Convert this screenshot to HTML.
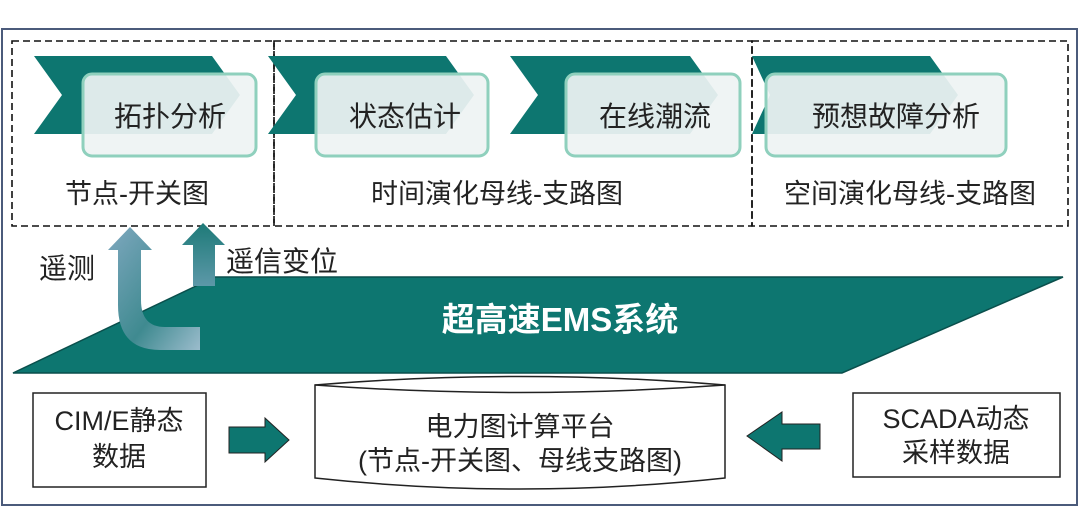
<!DOCTYPE html>
<html><head><meta charset="utf-8"><style>
body{margin:0;background:#fff;}
svg{display:block;}
text{font-family:"Liberation Sans","Noto Sans CJK SC",sans-serif;}
</style></head><body>
<svg width="1080" height="508" viewBox="0 0 1080 508">
<defs>
<linearGradient id="g1" x1="0" y1="0" x2="1" y2="1"><stop offset="0" stop-color="#7fa8bf"/><stop offset="0.6" stop-color="#3f8a90"/><stop offset="1" stop-color="#9bbccc"/></linearGradient>
<linearGradient id="g2" x1="0" y1="0" x2="0" y2="1"><stop offset="0" stop-color="#1e7a78"/><stop offset="1" stop-color="#5c98a8"/></linearGradient>
</defs>
<rect x="2" y="29" width="1075" height="476" fill="#fff" stroke="#4b5b7b" stroke-width="2"/>
<g fill="none" stroke="#111" stroke-width="1.6" stroke-dasharray="7,4">
<rect x="12" y="41" width="262" height="185"/>
<rect x="274" y="41" width="478" height="185"/>
<rect x="752" y="41" width="316" height="185"/>
</g>
<g fill="#0d7670">
<polygon points="34,56 212,56 240,95 212,134 34,134 62,95"/>
<polygon points="268,56 446,56 474,95 446,134 268,134 296,95"/>
<polygon points="510,56 690,56 718,95 690,134 510,134 538,95"/>
<polygon points="752,56 930,56 958,95 930,134 752,134 770,95"/>
</g>
<g fill="#eef3f3" fill-opacity="0.93" stroke="#8fd0bd" stroke-width="3">
<rect x="83" y="74" width="173" height="82" rx="9"/>
<rect x="316" y="74" width="172" height="82" rx="9"/>
<rect x="566" y="74" width="174" height="82" rx="9"/>
<rect x="766" y="74" width="240" height="82" rx="9"/>
</g>
<g font-size="28" fill="#222" text-anchor="middle">
<text x="170" y="126">拓扑分析</text>
<text x="405" y="126">状态估计</text>
<text x="655" y="126">在线潮流</text>
<text x="896" y="126">预想故障分析</text>
</g>
<g font-size="27" fill="#222" text-anchor="middle">
<text x="137" y="203">节点-开关图</text>
<text x="497" y="203">时间演化母线-支路图</text>
<text x="910" y="203">空间演化母线-支路图</text>
</g>
<polygon points="215,277 1063,277 842,373 13,373" fill="#0d7670" stroke="#0a4f4c" stroke-width="1.5"/>
<text x="560" y="331" font-size="33" font-weight="bold" fill="#fff" text-anchor="middle">超高速EMS系统</text>
<path d="M193,286 L193,245 L182,245 L203,223 L225,245 L215,245 L215,286 Z" fill="url(#g2)"/>
<path d="M118,250 L108,250 L130,227 L152,250 L141,250 L141,300 Q141,327 165,327 L200,327 L200,350 L160,350 Q118,350 118,305 Z" fill="url(#g1)"/>
<text x="39" y="278" font-size="28" fill="#222">遥测</text>
<text x="226" y="271" font-size="28" fill="#222">遥信变位</text>
<path d="M315,385 Q520,368 725,385 L725,478 Q520,500 315,478 Z" fill="#fff" stroke="#222" stroke-width="1.5"/>
<path d="M315,385 Q520,400 725,385" fill="none" stroke="#222" stroke-width="1.5"/>
<text x="520" y="436" font-size="27" fill="#222" text-anchor="middle">电力图计算平台</text>
<text x="520" y="470" font-size="27" fill="#222" text-anchor="middle">(节点-开关图、母线支路图)</text>
<rect x="33" y="393" width="173" height="94" fill="#fff" stroke="#222" stroke-width="1.5"/>
<text x="119" y="430" font-size="27" fill="#222" text-anchor="middle">CIM/E静态</text>
<text x="119" y="466" font-size="27" fill="#222" text-anchor="middle">数据</text>
<rect x="853" y="393" width="207" height="84" fill="#fff" stroke="#222" stroke-width="1.5"/>
<text x="956" y="428" font-size="27" fill="#222" text-anchor="middle">SCADA动态</text>
<text x="956" y="462" font-size="27" fill="#222" text-anchor="middle">采样数据</text>
<polygon points="229,427 265,427 265,418 289,440 265,462 265,453 229,453" fill="#0d7670" stroke="#222" stroke-width="1"/>
<polygon points="820,424 782,424 782,412 747,436 782,461 782,449 820,449" fill="#0d7670" stroke="#222" stroke-width="1"/>
</svg>
</body></html>
